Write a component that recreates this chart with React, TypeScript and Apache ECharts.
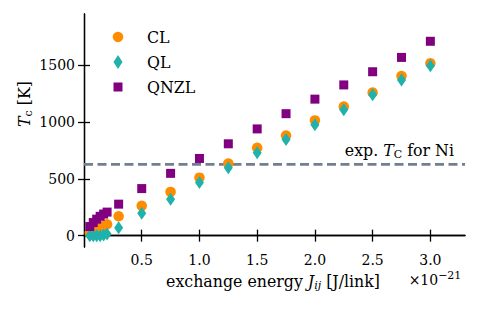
import React, { useEffect, useRef } from "react";
import * as echarts from "echarts";

const J = [0.05, 0.08, 0.11, 0.14, 0.17, 0.2, 0.3, 0.5, 0.75, 1.0, 1.25, 1.5, 1.75, 2.0, 2.25, 2.5, 2.75, 3.0];
const CL = [25, 40, 55, 70, 85, 100, 170, 262, 385, 510, 635, 773, 880, 1014, 1136, 1259, 1405, 1516];
const QL = [0, 0, 0, 0, 5, 15, 70, 198, 321, 467, 598, 729, 845, 976, 1107, 1239, 1370, 1495];
const QNZL = [80, 115, 145, 170, 190, 207, 277, 414, 548, 679, 808, 939, 1073, 1201, 1326, 1442, 1568, 1710];
const TC_NI = 627;
const X_TICKS = [0.5, 1.0, 1.5, 2.0, 2.5, 3.0];
const Y_TICKS = [0, 500, 1000, 1500];
const X_RANGE = [0, 3.3];
const Y_RANGE = [-100, 1950];

const SERIF = "DejaVu Serif";
const FS = 14;
const WS = 15.8;

const rich = {
  r: { fontFamily: SERIF, fontSize: WS, color: "#000" },
  i: { fontFamily: SERIF, fontSize: WS, fontStyle: "italic", color: "#000" },
  s: { fontFamily: SERIF, fontSize: 11, color: "#000", padding: [8, 0, 0, 0] },
  si: { fontFamily: SERIF, fontSize: 11, fontStyle: "italic", color: "#000", padding: [8, 0, 0, 0] },
  n: { fontFamily: SERIF, fontSize: FS, color: "#000", lineHeight: 16 },
  sup: { fontFamily: SERIF, fontSize: 11, color: "#000", padding: [0, 0, 10, 0] },
};

const zip = (ys: number[]) => J.map((x, k) => [x, ys[k]]);

export default function App() {
  const ref = useRef<HTMLDivElement>(null);
  useEffect(() => {
    if (!ref.current) return;
    const chart = echarts.init(ref.current, undefined, { renderer: "svg" });
    const axisLine = { show: true, lineStyle: { color: "#000", width: 1.3 } };
    const tick = (vals: number[]) => ({
      show: true,
      inside: true,
      length: 6,
      customValues: vals,
      lineStyle: { color: "#000", width: 1.3 },
    });
    const legend = (name: string, icon: string, w: number, h: number, top: number, color: string) => ({
      data: [{ name, icon, itemStyle: { color } }],
      left: 118 - w / 2,
      top,
      padding: 0,
      itemWidth: w,
      itemHeight: h,
      textStyle: { fontFamily: SERIF, fontSize: WS, color: "#000", padding: [0, 0, 0, 24 - w / 2], lineHeight: 20 },
    });
    chart.setOption({
      animation: false,
      textStyle: { fontFamily: SERIF },
      grid: { left: 84, right: 14, top: 14, bottom: 64, containLabel: false },
      xAxis: [
        {
          type: "value",
          min: X_RANGE[0],
          max: X_RANGE[1],
          axisLine,
          axisTick: tick(X_TICKS),
          splitLine: { show: false },
          axisLabel: {
            customValues: X_TICKS,
            formatter: (v: number) => "{n|" + v.toFixed(1) + "}",
            rich: { n: rich.n },
            fontFamily: SERIF,
            fontSize: FS,
            color: "#000",
            margin: 5,
          },
        },
        {
          type: "value",
          position: "top",
          min: X_RANGE[0],
          max: X_RANGE[1],
          axisLine,
          axisTick: tick(X_TICKS),
          splitLine: { show: false },
          axisLabel: { show: false },
        },
      ],
      yAxis: [
        {
          type: "value",
          min: Y_RANGE[0],
          max: Y_RANGE[1],
          axisLine,
          axisTick: tick(Y_TICKS),
          splitLine: { show: false },
          axisLabel: {
            customValues: Y_TICKS,
            formatter: (v: number) => "{n|" + String(v) + "}",
            rich: { n: rich.n },
            fontFamily: SERIF,
            fontSize: FS,
            color: "#000",
            margin: 9,
          },
        },
        {
          type: "value",
          position: "right",
          min: Y_RANGE[0],
          max: Y_RANGE[1],
          axisLine,
          axisTick: tick(Y_TICKS),
          splitLine: { show: false },
          axisLabel: { show: false },
        },
      ],
      legend: [
        legend("CL", "circle", 10.5, 10.5, 27, "#FF8C00"),
        legend("QL", "diamond", 9, 14, 52, "#20B2AA"),
        legend("QNZL", "rect", 9, 9, 77, "#800080"),
      ],
      series: [
        {
          name: "ref",
          type: "line",
          data: [
            [X_RANGE[0], TC_NI],
            [X_RANGE[1], TC_NI],
          ],
          showSymbol: false,
          silent: true,
          lineStyle: { color: "#708090", width: 2.8, type: [9, 4.5] },
          z: 1,
        },
        {
          name: "CL",
          type: "scatter",
          data: zip(CL),
          symbol: "circle",
          symbolSize: 10.5,
          itemStyle: { color: "#FF8C00", opacity: 1 },
          z: 2,
        },
        {
          name: "QL",
          type: "scatter",
          data: zip(QL),
          symbol: "diamond",
          symbolSize: [9, 13],
          itemStyle: { color: "#20B2AA", opacity: 1 },
          z: 3,
        },
        {
          name: "QNZL",
          type: "scatter",
          data: zip(QNZL),
          symbol: "rect",
          symbolSize: 9,
          itemStyle: { color: "#800080", opacity: 1 },
          z: 4,
        },
      ],
      graphic: [
        {
          type: "text",
          x: 454,
          y: 150,
          style: {
            text: "{r|exp. }{i|T}{s|C}{r| for Ni}",
            rich,
            align: "right",
            verticalAlign: "middle",
          },
          z: 10,
        },
        {
          type: "text",
          x: 273,
          y: 281,
          style: {
            text: "{r|exchange energy }{i|J}{si|ij}{r| [J/link]}",
            rich,
            align: "center",
            verticalAlign: "middle",
          },
        },
        {
          type: "text",
          x: 435,
          y: 280,
          style: {
            text: "{n|×10}{sup|−21}",
            rich,
            align: "center",
            verticalAlign: "middle",
          },
        },
        {
          type: "text",
          x: 24,
          y: 104,
          rotation: Math.PI / 2,
          style: {
            text: "{i|T}{s|c}{r| [K]}",
            rich,
            align: "center",
            verticalAlign: "middle",
          },
        },
      ],
    });
    return () => chart.dispose();
  }, []);
  return <div ref={ref} style={{ width: 479, height: 311, position: "absolute", left: 0, top: 0 }} />;
}
